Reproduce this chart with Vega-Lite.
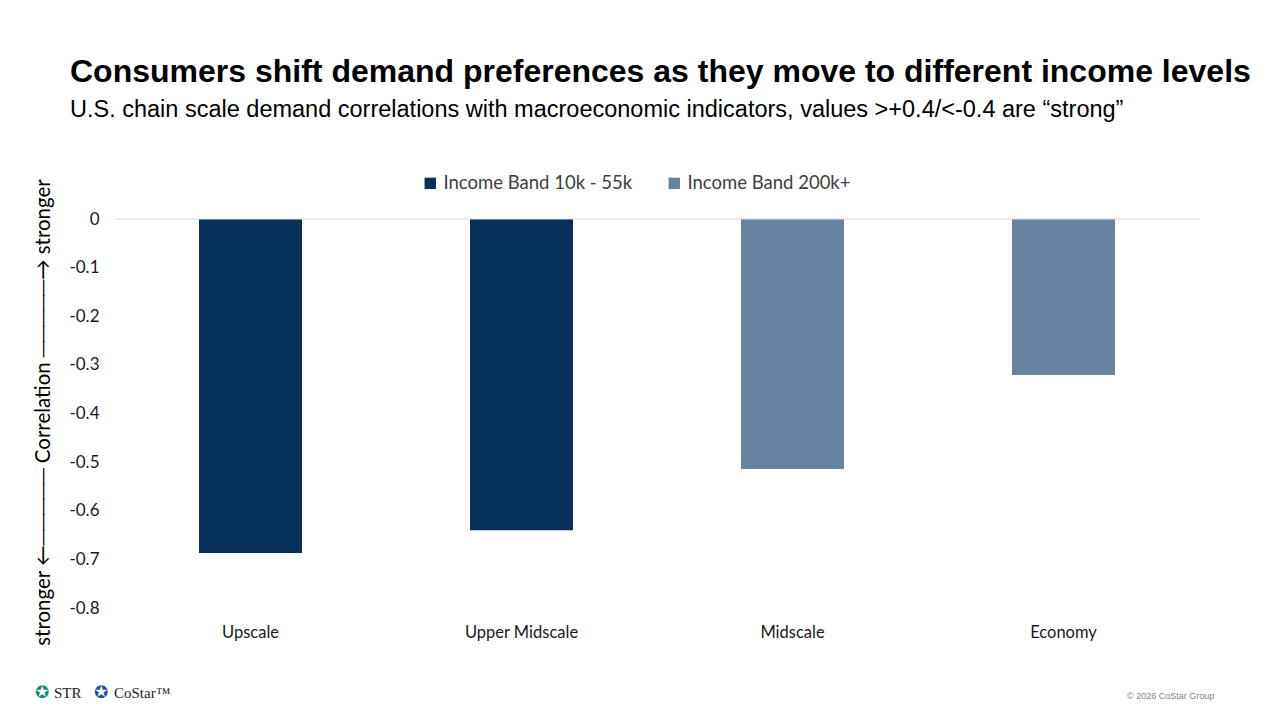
{
  "$schema": "https://vega.github.io/schema/vega-lite/v6.json",
  "width": 1084,
  "height": 389,
  "autosize": {"type": "none"},
  "padding": {"left": 115, "top": 219, "right": 81, "bottom": 112},
  "background": "white",
  "title": {
    "text": "Consumers shift demand preferences as they move to different income levels",
    "subtitle": "U.S. chain scale demand correlations with macroeconomic indicators, values >+0.4/<-0.4 are “strong”",
    "anchor": "start",
    "frame": "group",
    "dx": -45,
    "font": "Liberation Sans",
    "fontSize": 32,
    "fontWeight": "bold",
    "color": "#000000",
    "subtitleFont": "Liberation Sans",
    "subtitleFontSize": 23.5,
    "subtitleColor": "#000000",
    "subtitlePadding": 9,
    "offset": 52
  },
  "config": {"view": {"stroke": null}},
  "layer": [
    {
      "data": {
        "values": [
          {"scale": "Upscale", "band": "Income Band 10k - 55k", "corr": -0.687},
          {"scale": "Upper Midscale", "band": "Income Band 10k - 55k", "corr": -0.640},
          {"scale": "Midscale", "band": "Income Band 200k+", "corr": -0.514},
          {"scale": "Economy", "band": "Income Band 200k+", "corr": -0.321}
        ]
      },
      "mark": {"type": "bar"},
      "encoding": {
        "x": {
          "field": "scale",
          "type": "nominal",
          "sort": null,
          "scale": {"paddingInner": 0.62, "paddingOuter": 0.31},
          "axis": {
            "title": null,
            "domain": false,
            "ticks": false,
            "labelAngle": 0,
            "labelFont": "Lato",
            "labelFontSize": 16.5,
            "labelColor": "#1a1a1a",
            "labelPadding": 16
          }
        },
        "y": {
          "field": "corr",
          "type": "quantitative",
          "scale": {"domain": [-0.8, 0], "nice": false, "zero": false},
          "axis": {
            "title": "stronger ←───── Correlation ─────→ stronger",
            "titleFont": "Lato",
            "titleFontSize": 20.5,
            "titleFontWeight": "normal",
            "titleColor": "#000000",
            "titleAngle": 270,
            "titleX": -72,
            "titleY": 193,
            "titleAlign": "center",
            "titleBaseline": "middle",
            "values": [0, -0.1, -0.2, -0.3, -0.4, -0.5, -0.6, -0.7, -0.8],
            "format": ".1~f",
            "labelExpr": "replace(datum.label, '−', '-')",
            "domain": false,
            "ticks": false,
            "grid": false,
            "labelFont": "Lato",
            "labelFontSize": 17,
            "labelColor": "#1a1a1a",
            "labelPadding": 16
          }
        },
        "color": {
          "field": "band",
          "type": "nominal",
          "scale": {
            "domain": ["Income Band 10k - 55k", "Income Band 200k+"],
            "range": ["#07305A", "#6783A0"]
          },
          "legend": {
            "title": null,
            "orient": "none",
            "direction": "horizontal",
            "legendX": 306,
            "legendY": -45,
            "symbolType": "square",
            "symbolSize": 130,
            "symbolStrokeWidth": 0,
            "labelFont": "Lato",
            "labelFontSize": 18.5,
            "labelLimit": 0,
            "labelColor": "#404040",
            "columnPadding": 32,
            "labelOffset": 4
          }
        }
      }
    },
    {
      "data": {"values": [{"zero": 0}]},
      "mark": {"type": "rule", "color": "#D9D9D9", "strokeWidth": 1},
      "encoding": {"y": {"field": "zero", "type": "quantitative"}}
    },
    {
      "data": {"values": [{"t": "✪"}]},
      "mark": {"type": "text", "font": "DejaVu Sans", "fontSize": 17, "color": "#1A8A78", "align": "center", "baseline": "middle"},
      "encoding": {"text": {"field": "t"}, "x": {"value": -73}, "y": {"value": 474}}
    },
    {
      "data": {"values": [{"t": "STR"}]},
      "mark": {"type": "text", "font": "Liberation Serif", "fontSize": 15, "color": "#222222", "align": "left", "baseline": "middle"},
      "encoding": {"text": {"field": "t"}, "x": {"value": -61}, "y": {"value": 474}}
    },
    {
      "data": {"values": [{"t": "✪"}]},
      "mark": {"type": "text", "font": "DejaVu Sans", "fontSize": 17, "color": "#1F5A9E", "align": "center", "baseline": "middle"},
      "encoding": {"text": {"field": "t"}, "x": {"value": -14}, "y": {"value": 474}}
    },
    {
      "data": {"values": [{"t": "CoStar™"}]},
      "mark": {"type": "text", "font": "Liberation Serif", "fontSize": 15, "color": "#222222", "align": "left", "baseline": "middle"},
      "encoding": {"text": {"field": "t"}, "x": {"value": -1}, "y": {"value": 474}}
    },
    {
      "data": {"values": [{"t": "© 2026 CoStar Group"}]},
      "mark": {"type": "text", "font": "Liberation Sans", "fontSize": 9, "color": "#7F7F7F", "align": "left", "baseline": "middle"},
      "encoding": {"text": {"field": "t"}, "x": {"value": 1012}, "y": {"value": 477}}
    }
  ]
}
